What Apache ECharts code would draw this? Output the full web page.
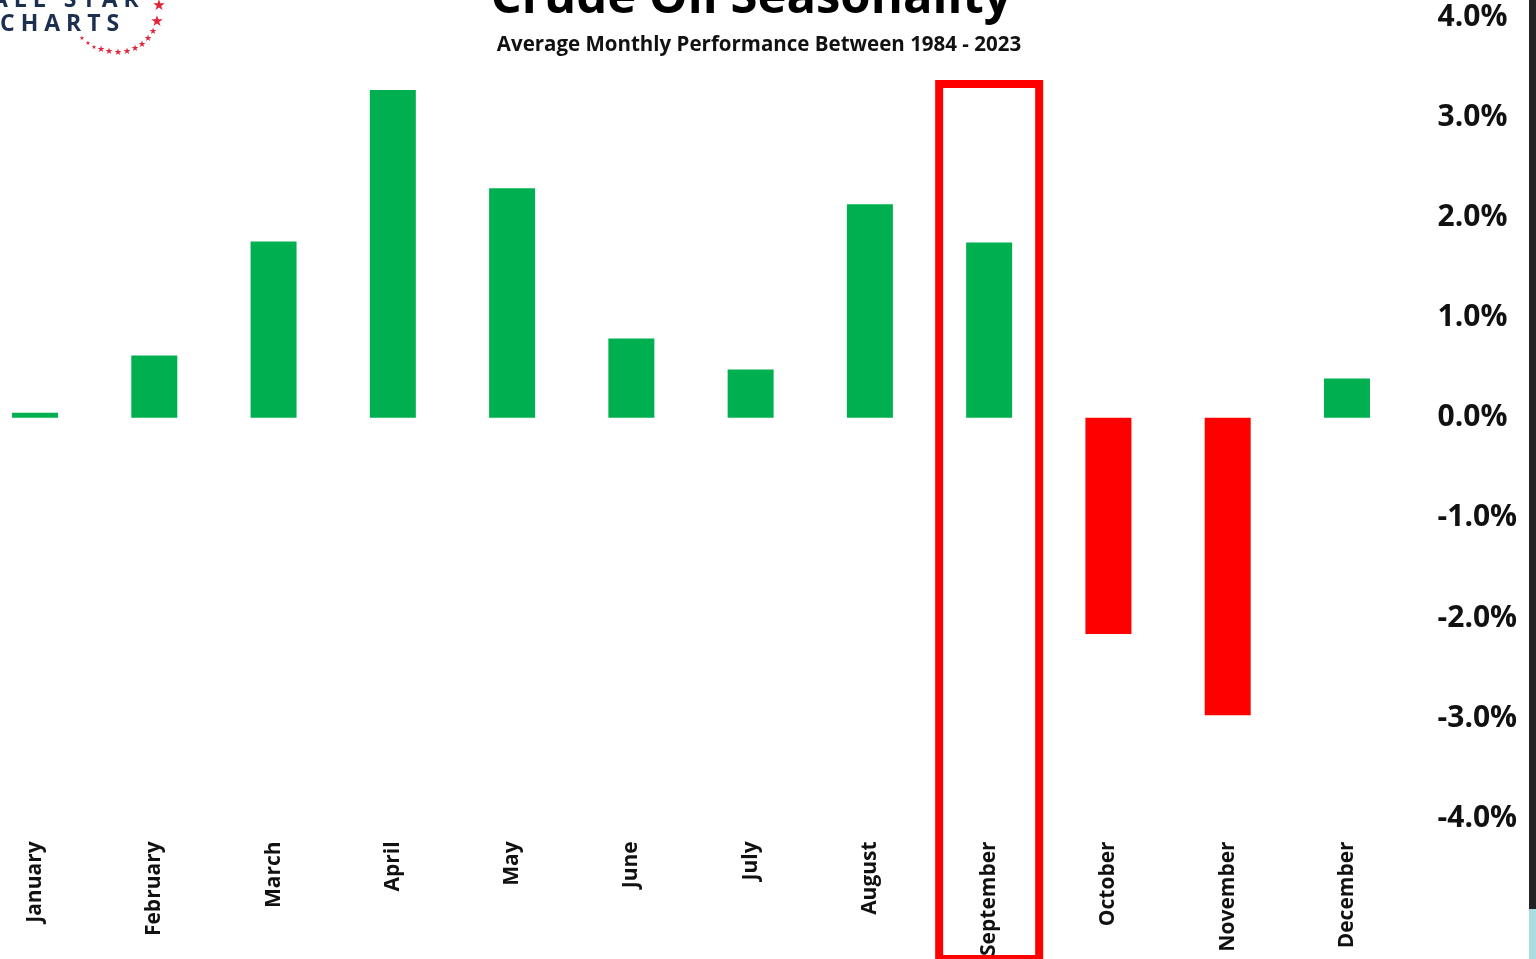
<!DOCTYPE html>
<html>
<head>
<meta charset="utf-8">
<script src="https://cdn.jsdelivr.net/npm/echarts@6/dist/echarts.min.js"></script>
<style>
html,body{margin:0;padding:0;background:#fff;overflow:hidden;}
#wrap{position:relative;width:1536px;height:959px;overflow:hidden;}
#chart{position:absolute;left:-25px;top:0;width:1561px;height:959px;}
</style>
</head>
<body>
<div id="wrap"><div id="chart"></div></div>
<script>
const months = ['January','February','March','April','May','June','July','August','September','October','November','December'];
const avgReturn = [0.05, 0.62, 1.76, 3.27, 2.29, 0.79, 0.48, 2.13, 1.75, -2.16, -2.97, 0.39];
const yTicks = [-4, -3, -2, -1, 0, 1, 2, 3, 4];
const highlightMonth = 'September';
const titleText = 'Crude Oil Seasonality';
const subtitleText = 'Average Monthly Performance Between 1984 - 2023';

const GREEN = '#00B050', RED = '#FF0000';
const OX = 25; // container offset (chart div starts 25px left of the page)
const chart = echarts.init(document.getElementById('chart'), null, {renderer:'canvas'});

const option = {
  backgroundColor: '#ffffff',
  animation: false,
  grid: {left: 0.4, right: 129.4, top: 17, bottom: 137, containLabel: false},
  xAxis: {
    type: 'category',
    data: months,
    axisLine: {show: false, onZero: false},
    axisTick: {show: false},
    axisLabel: {
      rotate: 90, margin: 23, interval: 0,
      color: '#111', fontFamily: 'Open Sans', fontWeight: 700, fontSize: 21
    }
  },
  yAxis: {
    type: 'value',
    position: 'right',
    min: yTicks[0], max: yTicks[yTicks.length - 1], interval: 1,
    splitLine: {show: false},
    axisLine: {show: false},
    axisTick: {show: false},
    axisLabel: {
      margin: 31, color: '#111', fontFamily: 'Open Sans', fontWeight: 700, fontSize: 30,
      formatter: v => v.toFixed(1) + '%'
    }
  },
  series: [{
    type: 'bar',
    barWidth: 46,
    data: avgReturn.map(v => ({value: v, itemStyle: {color: v >= 0 ? GREEN : RED}}))
  }]
};
chart.setOption(option);

// highlight box around September
const cx = chart.convertToPixel({xAxisIndex: 0}, highlightMonth);
const graphics = [
  {type: 'rect', shape: {x: cx - 50, y: 84, width: 100, height: 875},
   style: {fill: 'none', stroke: RED, lineWidth: 8}, z: 10},
  {type: 'text', style: {text: titleText, x: 751 + OX, y: 24, textAlign: 'center', textVerticalAlign: 'bottom',
    font: 'bold 49px "Open Sans"', fill: '#000'}, z: 10},
  {type: 'text', style: {text: subtitleText, x: 759 + OX, y: 45, textAlign: 'center', textVerticalAlign: 'middle',
    font: 'bold 20.5px "Open Sans"', fill: '#111'}, z: 10},
  // logo
  {type: 'text', style: {text: 'A L L   S T A R', x: -8 + OX, y: 0, textVerticalAlign: 'middle',
    font: 'bold 23px "Open Sans"', fill: '#1c2f4f'}},
  {type: 'text', style: {text: 'C H A R T S', x: 0 + OX, y: 24, textVerticalAlign: 'middle',
    font: 'bold 23px "Open Sans"', fill: '#1c2f4f'}},
  {type: 'text', style: {text: '★', x: 159 + OX, y: 6, textAlign: 'center', textVerticalAlign: 'middle', font: '15px "DejaVu Sans"', fill: '#e0253a'}},
  {type: 'text', style: {text: '★', x: 157 + OX, y: 22, textAlign: 'center', textVerticalAlign: 'middle', font: '15px "DejaVu Sans"', fill: '#e0253a'}},
  // right edge strip
  {type: 'rect', shape: {x: 1529 + OX, y: 0, width: 7, height: 909}, style: {fill: '#222222'}},
  {type: 'rect', shape: {x: 1529 + OX, y: 909, width: 7, height: 50}, style: {fill: '#a9dde2'}}
];
// dotted arc of small stars in logo
const arc = [[82,38],[88,43],[94,47],[101,50],[109,52],[118,53],[127,52],[135,49],[142,45],[148,39],[153,32]];
arc.forEach((p, i) => graphics.push({type: 'text', style: {text: '★', x: p[0] + OX, y: p[1], textAlign: 'center', textVerticalAlign: 'middle',
  font: (i < 3 ? 6 : 9) + 'px "DejaVu Sans"', fill: '#e0253a'}}));
chart.setOption({graphic: graphics});
</script>
</body>
</html>
